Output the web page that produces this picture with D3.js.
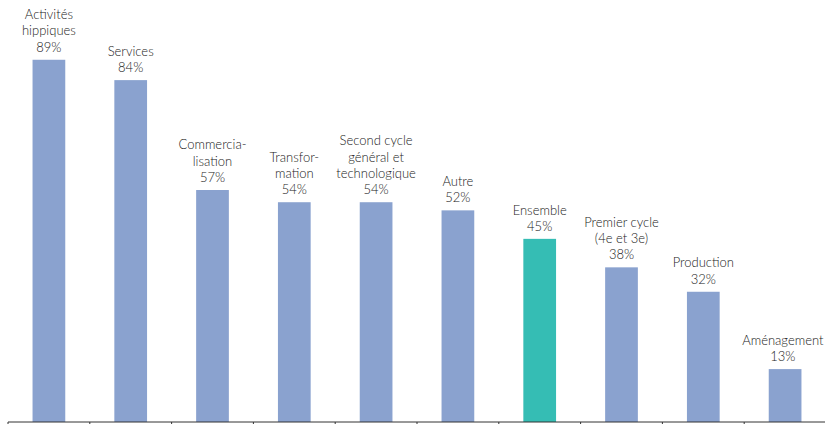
<!DOCTYPE html>
<html>
<head>
<meta charset="utf-8">
<script src="https://cdn.jsdelivr.net/npm/d3@7"></script>
<style>
  body { margin: 0; background: #fff; }
  svg { display: block; }
</style>
</head>
<body>
<svg id="chart"></svg>
<script>
// Categories (line breaks as in the original labels)
const categories = [
    "Activités|hippiques",
    "Services",
    "Commercia-|lisation",
    "Transfor-|mation",
    "Second cycle|général et|technologique",
    "Autre",
    "Ensemble",
    "Premier cycle|(4e et 3e)",
    "Production",
    "Aménagement"
];
const values = [89, 84, 57, 54, 54, 52, 45, 38, 32, 13];
const highlight = "Ensemble";

const width = 825, height = 424;
const margin = { top: 15, right: -1, bottom: 2, left: 8 };

const svg = d3.select("#chart")
    .attr("width", width)
    .attr("height", height);

const xScale = d3.scaleBand()
    .domain(categories)
    .range([margin.left, width - margin.right])
    .paddingInner(0.6)
    .paddingOuter(0.3);

const yScale = d3.scaleLinear()
    .domain([0, 100])
    .range([height - margin.bottom, margin.top]);

// bars
svg.selectAll("rect.bar")
    .data(categories)
    .enter().append("rect")
    .attr("class", "bar")
    .attr("x", d => xScale(d))
    .attr("y", (d, i) => yScale(values[i]))
    .attr("width", xScale.bandwidth())
    .attr("height", (d, i) => yScale(0) - yScale(values[i]))
    .style("fill", d => d === highlight ? "#35bdb4" : "#8aa2cf");

// labels: category lines then value
const labels = svg.selectAll("text.lbl")
    .data(categories)
    .enter().append("text")
    .attr("class", "lbl")
    .attr("text-anchor", "middle")
    .style("font-family", "Lato, 'Open Sans', sans-serif")
    .style("font-weight", "300")
    .style("font-size", "13px")
    .style("fill", "#222");

labels.each(function (d, i) {
    const lines = d.split("|").concat([values[i] + "%"]);
    let cx = xScale(d) + xScale.bandwidth() / 2;
    const baseY = yScale(values[i]) - 8;
    const lineH = 16.3;
    const t = d3.select(this);
    t.selectAll("tspan")
        .data(lines)
        .enter().append("tspan")
        .attr("x", cx)
        .attr("y", (l, j) => baseY - (lines.length - 1 - j) * lineH)
        .text(l => l);
    // keep the label inside the window
    const bb = this.getBBox();
    if (bb.x + bb.width > width - 1) {
        cx -= bb.x + bb.width - (width - 1);
        t.selectAll("tspan").attr("x", cx);
    }
});

// x axis: band boundaries as ticks
const step = xScale.step();
const axisY = yScale(0);
svg.append("line")
    .attr("x1", margin.left)
    .attr("x2", width)
    .attr("y1", axisY)
    .attr("y2", axisY)
    .style("stroke", "#333")
    .style("stroke-width", 1);

const tickPos = d3.range(categories.length + 1).map(k => xScale(categories[0]) - xScale.paddingOuter() * step + k * step);
svg.selectAll("line.tick")
    .data(tickPos)
    .enter().append("line")
    .attr("class", "tick")
    .attr("x1", d => d)
    .attr("x2", d => d)
    .attr("y1", axisY)
    .attr("y2", axisY + 5)
    .style("stroke", "#333")
    .style("stroke-width", 1);
</script>
</body>
</html>
